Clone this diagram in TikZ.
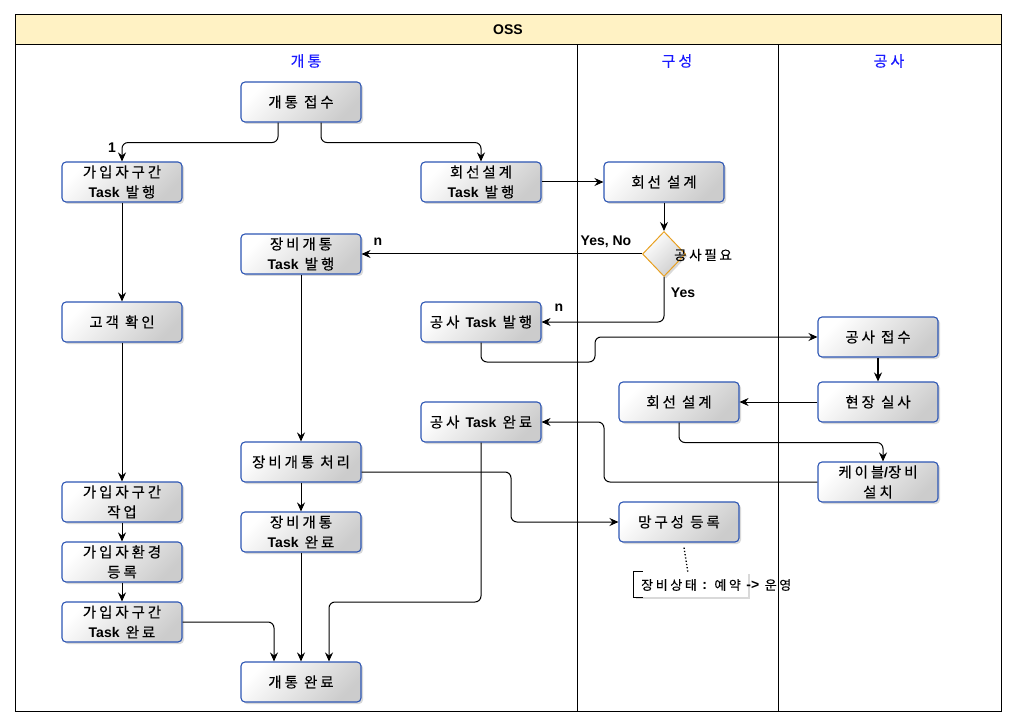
\documentclass[tikz,border=0pt]{standalone}
\usepackage{fontspec}
\setmainfont{Noto Sans CJK KR}[LetterSpace=20, FakeBold=0.3]
\newfontfamily\lat{Liberation Sans}
\usetikzlibrary{arrows.meta,shapes.geometric,shadows,calc}
\definecolor{bordc}{HTML}{2D56B4}
\definecolor{hdrc}{HTML}{FFF2C4}
\definecolor{lanec}{HTML}{1A1AFF}
\definecolor{diac}{HTML}{E8A020}
\newcommand\Bl[1]{{\lat\bfseries\fontsize{14}{20}\selectfont #1}}
\begin{document}
\begin{tikzpicture}[x=1pt,y=-1pt,
  myshadow/.style={drop shadow={shadow xshift=2pt,shadow yshift=-2pt,opacity=.25,fill=black!60}},
  box/.style={rectangle, rounded corners=4pt, draw=bordc, line width=1.1pt,
    top color=white, bottom color=black!20, shading angle=45,
    minimum width=120pt, minimum height=40pt, inner sep=1pt, align=center,
    font=\fontsize{14.5}{20}\selectfont, myshadow},
  arr/.style={-{Stealth[length=9pt,width=8pt,inset=3pt]}, line width=1pt, rounded corners=6pt},
  lbl/.style={font=\lat\bfseries\fontsize{14}{16}\selectfont, inner sep=0pt},
  lanetitle/.style={font=\fontsize{15}{16}\selectfont, text=lanec, inner sep=0pt}]
\useasboundingbox (0,0) rectangle (1017,727);
% pool
\fill[hdrc] (15,15) rectangle (1001,45);
\draw[line width=1pt] (15,15) rectangle (1001,711);
\draw[line width=1pt] (15,45) -- (1001,45);
\draw[line width=1pt] (577,45) -- (577,711);
\draw[line width=1pt] (778,45) -- (778,711);
\node[lbl] (oss) at (508,30) {OSS};
\node[lanetitle] (l1) at (306,61) {개통};
\node[lanetitle] (l2) at (677,61) {구성};
\node[lanetitle] (l3) at (889,61) {공사};
% nodes
\node[box] (n1) at (301,102) {개통 접수};
\node[box] (n2) at (122,182) {가입자구간\\\Bl{Task} 발행};
\node[box] (n3) at (481,182) {회선설계\\\Bl{Task} 발행};
\node[box] (n4) at (664,182) {회선 설계};
\node[diamond, draw=diac, line width=1pt, top color=white, bottom color=black!20, shading angle=45,
  minimum width=43pt, minimum height=45pt, inner sep=0pt, myshadow] (d1) at (664,254) {};
\node[font=\fontsize{13.5}{16}\selectfont, inner sep=0pt] (dt) at (703,255) {공사필요};
\node[box] (n5) at (301,254) {장비개통\\\Bl{Task} 발행};
\node[box] (n6) at (122,322) {고객 확인};
\node[box] (n7) at (481,322) {공사 \Bl{Task} 발행};
\node[box] (n8) at (878,337) {공사 접수};
\node[box] (n9) at (679,402) {회선 설계};
\node[box] (n10) at (878,402) {현장 실사};
\node[box] (n11) at (481,422) {공사 \Bl{Task} 완료};
\node[box] (n12) at (301,462) {장비개통 처리};
\node[box] (n13) at (878,482) {케이블\Bl{/}장비\\설치};
\node[box] (n14) at (122,502) {가입자구간\\작업};
\node[box] (n15) at (679,522) {망구성 등록};
\node[box] (n16) at (301,532) {장비개통\\\Bl{Task} 완료};
\node[box] (n17) at (122,562) {가입자환경\\등록};
\node[box] (n18) at (122,622) {가입자구간\\\Bl{Task} 완료};
\node[box] (n19) at (301,682) {개통 완료};
% annotation
\node[fill=white, minimum width=114pt, minimum height=25pt, inner sep=0pt, myshadow] (annbox) at (691,584.5) {};
\draw[line width=1pt] ($(annbox.north west)+(9,0)$) -- (annbox.north west) -- (annbox.south west) -- ($(annbox.south west)+(9,0)$);
\node[anchor=west, font=\fontsize{13}{16}\selectfont, inner sep=0pt] (anntext) at (641,585) {장비상태 \Bl{:} 예약 \Bl{->} 운영};
\coordinate (anntop) at ($(annbox.north west)+(54,0)$);
\draw[dotted, line width=1.3pt] ($(n15.south)+(5,5)$) -- (anntop);
% edges
\draw[arr] ($(n1.south)+(-23,0)$) -- ++(0,20) -| (n2.north);
\draw[arr] ($(n1.south)+(20,0)$) -- ++(0,20) -| (n3.north);
\draw[arr] (n3) -- (n4);
\draw[arr] (n4) -- (d1);
\draw[arr] (d1.west) -- (n5.east);
\draw[arr] (d1.south) |- (n7.east);
\draw[arr] (n7.south) |- (595,362) |- (n8.west);
\draw[arr, line width=1.7pt] (n8) -- (n10);
\draw[arr] (n10) -- (n9);
\draw[arr] (n9.south) -- ++(0,20) -| ($(n13.north)+(5,0)$);
\draw[arr] (n13.west) -| (604,452) |- (n11.east);
\draw[arr] (n2) -- (n6);
\draw[arr] (n6) -- (n14);
\draw[arr] (n14) -- (n17);
\draw[arr] (n17) -- (n18);
\draw[arr] (n18.east) -| ($(n19.north)+(-27,0)$);
\draw[arr] (n5) -- (n12);
\draw[arr] (n12) -- (n16);
\draw[arr] (n16) -- (n19);
\draw[arr] ($(n12.east)+(0,10)$) -| (511,497) |- (n15.west);
\draw[arr] (n11.south) |- (400,602) -| ($(n19.north)+(28,0)$);
% labels
\node[lbl] (t1) at (112,148) {1};
\node[lbl] (tn1) at (378,242) {n};
\node[lbl] (tyn) at (606,242) {Yes, No};
\node[lbl] (ty) at (683,293) {Yes};
\node[lbl] (tn2) at (559,308) {n};
\end{tikzpicture}
\end{document}
